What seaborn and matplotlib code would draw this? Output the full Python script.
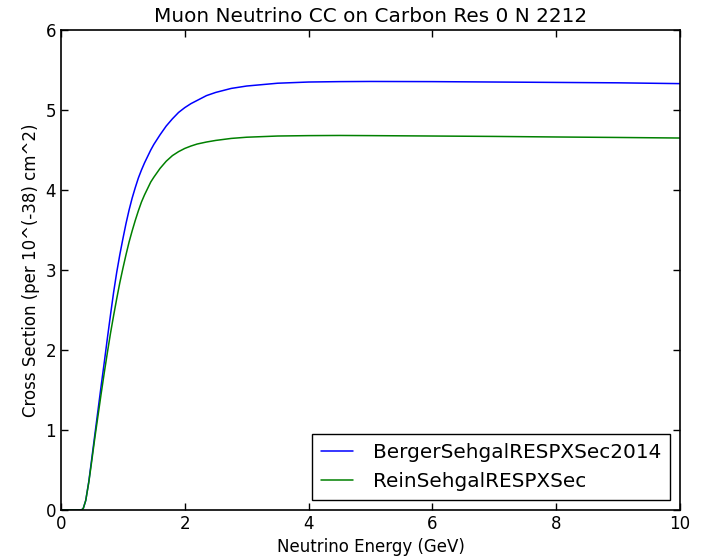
import pandas as pd
import matplotlib
matplotlib.use('Agg')
import matplotlib.pyplot as plt
import seaborn as sns

energia = [0.0, 0.3, 0.33, 0.36, 0.4, 0.45, 0.5, 0.55, 0.6, 0.65, 0.7, 0.75, 0.8, 0.85, 0.9, 0.95,
           1.0, 1.05, 1.1, 1.15, 1.2, 1.25, 1.3, 1.35, 1.4, 1.45, 1.5, 1.6, 1.7, 1.8, 1.9, 2.0,
           2.1, 2.2, 2.35, 2.5, 2.75, 3.0, 3.5, 4.0, 4.5, 5.0, 6.0, 7.0, 8.0, 9.0, 10.0]
berger = [0.0, 0.0, 0.0, 0.02, 0.12, 0.36, 0.66, 0.96, 1.26, 1.56, 1.85, 2.15, 2.44, 2.72, 2.97, 3.19,
          3.39, 3.58, 3.75, 3.90, 4.03, 4.15, 4.25, 4.34, 4.42, 4.50, 4.57, 4.69, 4.80, 4.89, 4.97, 5.03,
          5.08, 5.12, 5.18, 5.22, 5.27, 5.30, 5.335, 5.35, 5.355, 5.357, 5.355, 5.35, 5.345, 5.34, 5.33]
rein = [0.0, 0.0, 0.0, 0.02, 0.12, 0.35, 0.63, 0.92, 1.19, 1.46, 1.72, 1.97, 2.21, 2.43, 2.64, 2.84,
        3.02, 3.19, 3.35, 3.49, 3.62, 3.74, 3.85, 3.94, 4.02, 4.10, 4.16, 4.27, 4.36, 4.43, 4.48, 4.52,
        4.55, 4.575, 4.60, 4.62, 4.645, 4.66, 4.675, 4.68, 4.682, 4.68, 4.675, 4.67, 4.663, 4.657, 4.65]
modelos = ['BergerSehgalRESPXSec2014', 'ReinSehgalRESPXSec']

df = pd.concat([
    pd.DataFrame({'Energia': energia, 'Secao': berger, 'Modelo': modelos[0]}),
    pd.DataFrame({'Energia': energia, 'Secao': rein, 'Modelo': modelos[1]}),
])

sns.set_style('ticks')
plt.rcParams['font.family'] = ['DejaVu Sans']
plt.rcParams['text.color'] = 'black'
plt.rcParams['axes.labelcolor'] = 'black'
plt.rcParams['xtick.direction'] = 'in'
plt.rcParams['ytick.direction'] = 'in'
plt.rcParams['xtick.top'] = True
plt.rcParams['ytick.right'] = True
plt.rcParams['xtick.major.size'] = 5
plt.rcParams['ytick.major.size'] = 5

fig = plt.figure(figsize=(7.01, 5.56), dpi=100)
ax = fig.add_axes([0.087, 0.0827, 0.883, 0.8633])
sns.lineplot(data=df, x='Energia', y='Secao', hue='Modelo', palette=['#0000ff', '#008000'],
             linewidth=1.1, ax=ax)
ax.set_xlim(0, 10)
ax.set_ylim(0, 6)
ax.set_title('Muon Neutrino CC on Carbon Res 0 N 2212', fontsize=14.4, color='black')
ax.set_xlabel('Neutrino Energy (GeV)', fontsize=12)
ax.set_ylabel('Cross Section (per 10^(-38) cm^2)', fontsize=12)
ax.tick_params(labelsize=12, width=1, colors='black')
for s in ax.spines.values():
    s.set_linewidth(1.2)
    s.set_color('black')
leg = ax.legend(loc='lower right', fontsize=14.4, fancybox=False, framealpha=1,
                edgecolor='black', handlelength=1.6, handletextpad=1.0, borderpad=0.45)
leg.get_frame().set_linewidth(1)
fig.savefig('out.png', dpi=100)
